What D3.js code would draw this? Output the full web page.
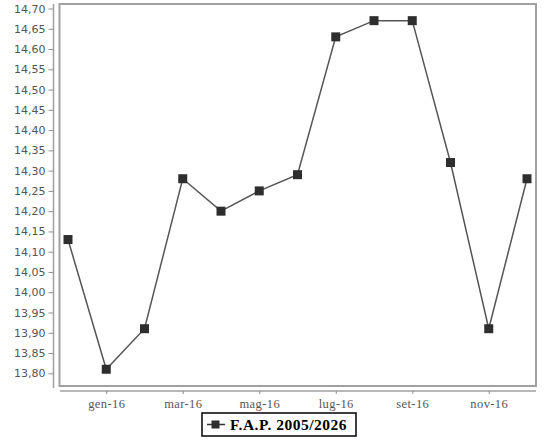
<!DOCTYPE html>
<html><head><meta charset="utf-8">
<script src="https://cdn.jsdelivr.net/npm/d3@7"></script>
<style>body{margin:0;background:#fff}svg{display:block}</style>
</head><body>
<svg id="c" width="544" height="441"></svg>
<script>
const months = ["dic-15","gen-16","feb-16","mar-16","apr-16","mag-16","giu-16","lug-16","ago-16","set-16","ott-16","nov-16","dic-16"];
const values = [14.13,13.81,13.91,14.28,14.20,14.25,14.29,14.63,14.67,14.67,14.32,13.91,14.28];
const xTickLabels = ["gen-16","mar-16","mag-16","lug-16","set-16","nov-16"];
const yTicks = [13.80,13.85,13.90,13.95,14.00,14.05,14.10,14.15,14.20,14.25,14.30,14.35,14.40,14.45,14.50,14.55,14.60,14.65,14.70];
const seriesName = "F.A.P. 2005/2026";

const svg = d3.select("#c");
const box = {l:59.5, r:536, t:4, b:386};
const x = d3.scalePoint().domain(months).range([68, 527]);
const y = d3.scaleLinear().domain([13.80, 14.70]).range([373.3, 8.5]);

svg.append("rect").attr("x",box.l).attr("y",box.t).attr("width",box.r-box.l).attr("height",box.b-box.t)
  .attr("fill","#fff").attr("stroke","#a0a0a0").attr("stroke-width",2);

const fmt = v => d3.format(".2f")(v).replace(".", ",");
const yAxis = svg.append("g").attr("transform","translate(53.5,0)")
  .call(d3.axisLeft(y).tickValues(yTicks).tickFormat(fmt).tickSize(5).tickPadding(3));
yAxis.select(".domain").attr("stroke","#a0a0a0").attr("stroke-width",1.5).attr("d","M0,4V388");
yAxis.selectAll(".tick line").attr("stroke","#909090");
yAxis.selectAll("text").attr("fill","#555").style("font-family","'DejaVu Sans', Verdana, sans-serif").style("font-size","11px");

const xAxis = svg.append("g").attr("transform","translate(0,391)")
  .call(d3.axisBottom(x).tickValues(xTickLabels).tickSize(3).tickPadding(5));
xAxis.select(".domain").attr("stroke","#a0a0a0").attr("stroke-width",1.5).attr("d","M60,0H536");
xAxis.selectAll(".tick line").attr("stroke","#909090");
xAxis.selectAll("text").attr("fill","#555").style("font-family","'Liberation Serif','DejaVu Serif',serif").style("font-size","12.5px").style("letter-spacing","0.4px");

const line = d3.line().x((d,i)=>x(months[i])).y(d=>y(d));
svg.append("path").datum(values).attr("d",line).attr("fill","none").attr("stroke","#555").attr("stroke-width",1.5);
svg.selectAll("rect.pt").data(values).join("rect").attr("class","pt")
  .attr("x",(d,i)=>x(months[i])-4.5).attr("y",d=>y(d)-4.5).attr("width",9).attr("height",9).attr("fill","#2e2e2e");

// legend
const lg = svg.append("g").attr("transform","translate(202,413)");
lg.append("rect").attr("x",0).attr("y",0).attr("width",154).attr("height",23).attr("fill","#fff").attr("stroke","#000").attr("stroke-width",1.5);
lg.append("line").attr("x1",5).attr("x2",23).attr("y1",11.5).attr("y2",11.5).attr("stroke","#333").attr("stroke-width",1.5);
lg.append("rect").attr("x",9.5).attr("y",7.5).attr("width",8).attr("height",8).attr("fill","#2e2e2e");
lg.append("text").attr("x",28).attr("y",17).text(seriesName).attr("fill","#000")
  .style("font-family","'Liberation Serif','DejaVu Serif',serif").style("font-weight","bold").style("font-size","15.5px").style("letter-spacing","0.5px");
</script>
</body></html>
